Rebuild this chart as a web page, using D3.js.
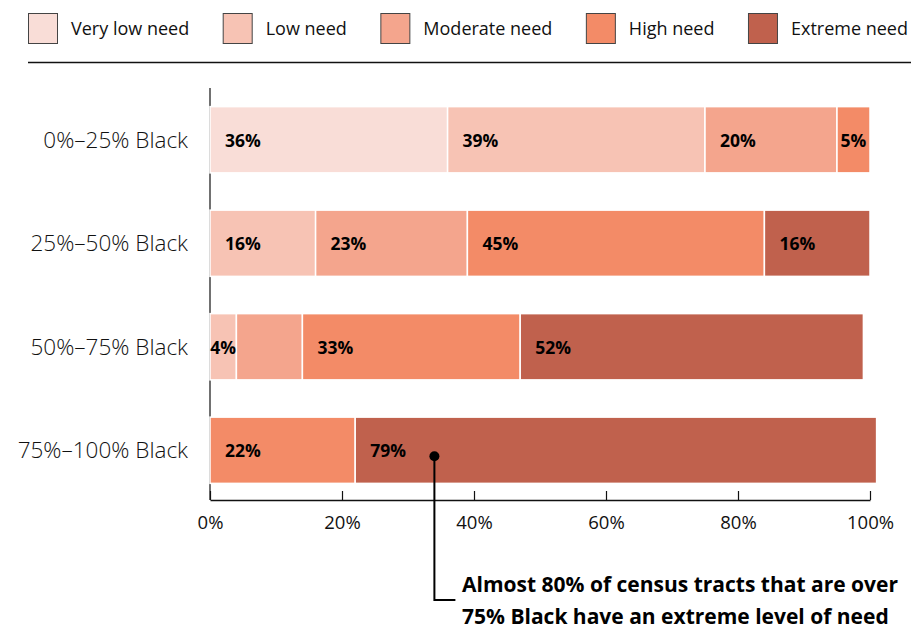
<!DOCTYPE html>
<html>
<head>
<meta charset="utf-8">
<script src="https://cdn.jsdelivr.net/npm/d3@7"></script>
<style>
  html, body { margin: 0; padding: 0; background: #fff; }
  svg { display: block; font-family: "Open Sans", "Lato", sans-serif; }
</style>
</head>
<body>
<svg id="chart" width="911" height="629"></svg>
<script>
// Share of census tracts by level of need, grouped by the Black share of the tract's population
const levels = ["Very low need", "Low need", "Moderate need", "High need", "Extreme need"];
const levelColors = ["#f9ddd7", "#f7c3b4", "#f4a58d", "#f38b67", "#c0614d"];
const groups = ["0%–25% Black", "25%–50% Black", "50%–75% Black", "75%–100% Black"];

// Percent of tracts at each need level, one array per group (order follows `levels`)
const row0to25 = [36, 39, 20, 5, 0];
const row25to50 = [0, 16, 23, 45, 16];
const row50to75 = [0, 4, 10, 33, 52];
const row75to100 = [0, 0, 0, 22, 79];
const rows = [row0to25, row25to50, row50to75, row75to100];

// Segments drawn without a value label: [group index, level index]
const unlabeled = [[2, 2]];

const xTicks = [0, 20, 40, 60, 80, 100];
const annotationLines = [
  "Almost 80% of census tracts that are over",
  "75% Black have an extreme level of need"
];
const annotationAt = { group: 3, value: 34 };

const svg = d3.select("#chart");

// ---- legend: spread items evenly between the left margin and the right edge ----
const legendLeft = 28, legendRight = 908, swatchToText = 43;
const legend = svg.append("g").attr("transform", `translate(${legendLeft},13)`);
const items = levels.map((name, i) => {
  const g = legend.append("g");
  g.append("rect")
    .attr("x", 0.5).attr("y", 0.5)
    .attr("width", 29).attr("height", 30)
    .attr("fill", levelColors[i])
    .attr("stroke", "#444").attr("stroke-width", 1);
  const t = g.append("text")
    .attr("x", swatchToText).attr("y", 22)
    .attr("font-size", 18).attr("fill", "#111")
    .text(name);
  return { g, w: swatchToText + t.node().getComputedTextLength() };
});
const totalW = d3.sum(items, d => d.w);
const gap = (legendRight - legendLeft - totalW) / (items.length - 1);
let lx = 0;
items.forEach(it => {
  it.g.attr("transform", `translate(${lx},0)`);
  lx += it.w + gap;
});

svg.append("line")
  .attr("x1", 28).attr("x2", 911)
  .attr("y1", 62.5).attr("y2", 62.5)
  .attr("stroke", "#111").attr("stroke-width", 1.5);

// ---- scales ----
const x = d3.scaleLinear().domain([0, 100]).range([210, 870]);
const y = d3.scaleBand().domain(groups).range([88, 502])
  .paddingInner(0.36).paddingOuter(0.18);

// vertical baseline (bars are drawn over it)
svg.append("line")
  .attr("x1", x(0)).attr("x2", x(0))
  .attr("y1", 88).attr("y2", 500)
  .attr("stroke", "#111").attr("stroke-width", 1.2);

// ---- stacked bars ----
const segments = [];
rows.forEach((vals, gi) => {
  let acc = 0;
  vals.forEach((v, li) => {
    if (v > 0) {
      segments.push({ group: groups[gi], gi, li, value: v, x0: acc, x1: acc + v });
    }
    acc += v;
  });
});

const barG = svg.append("g");
barG.selectAll("rect")
  .data(segments)
  .join("rect")
  .attr("x", d => x(d.x0))
  .attr("y", d => y(d.group))
  .attr("width", d => x(d.x1) - x(d.x0))
  .attr("height", y.bandwidth())
  .attr("fill", d => levelColors[d.li])
  .attr("stroke", "#fff")
  .attr("stroke-width", 1.5);

const isUnlabeled = d => unlabeled.some(([g, l]) => g === d.gi && l === d.li);

const labelG = svg.append("g");
segments.filter(d => !isUnlabeled(d)).forEach(d => {
  const t = labelG.append("text")
    .attr("y", y(d.group) + y.bandwidth() / 2 + 1)
    .attr("dy", "0.35em")
    .attr("font-size", 17.5).attr("font-weight", 700)
    .attr("fill", "#000")
    .text(d.value + "%");
  const w = x(d.x1) - x(d.x0);
  const tw = t.node().getComputedTextLength();
  const pad = Math.min(15, (w - tw) / 2);
  t.attr("x", x(d.x0) + pad);
});

// ---- group labels ----
svg.append("g").selectAll("text")
  .data(groups)
  .join("text")
  .attr("x", 188)
  .attr("y", d => y(d) + y.bandwidth() / 2)
  .attr("dy", "0.35em")
  .attr("text-anchor", "end")
  .attr("font-size", 22.5).attr("font-weight", 300)
  .attr("fill", "#111")
  .text(d => d);

// ---- x axis ----
const xAxis = d3.axisBottom(x)
  .tickValues(xTicks)
  .tickFormat(d => d + "%")
  .tickSizeInner(-9)
  .tickSizeOuter(0)
  .tickPadding(16);

const ax = svg.append("g")
  .attr("transform", "translate(0,500)")
  .call(xAxis);
ax.select(".domain").attr("stroke", "#111").attr("stroke-width", 1.5);
ax.selectAll(".tick line").attr("stroke", "#111").attr("stroke-width", 1.2);
ax.selectAll(".tick text")
  .attr("font-family", "\"Open Sans\", sans-serif")
  .attr("font-size", 18.5).attr("fill", "#111");

// ---- annotation ----
const ax0 = x(annotationAt.value);
const ay0 = y(groups[annotationAt.group]) + y.bandwidth() / 2 + 6;
const elbowY = 600;
svg.append("path")
  .attr("d", `M${ax0},${ay0} V${elbowY} H${ax0 + 21}`)
  .attr("fill", "none").attr("stroke", "#000").attr("stroke-width", 2);
svg.append("circle")
  .attr("cx", ax0).attr("cy", ay0).attr("r", 5)
  .attr("fill", "#000");

svg.append("g").selectAll("text")
  .data(annotationLines)
  .join("text")
  .attr("x", 462)
  .attr("y", (d, i) => 592 + i * 32)
  .attr("font-size", 21).attr("font-weight", 700)
  .attr("fill", "#000")
  .text(d => d);
</script>
</body>
</html>
